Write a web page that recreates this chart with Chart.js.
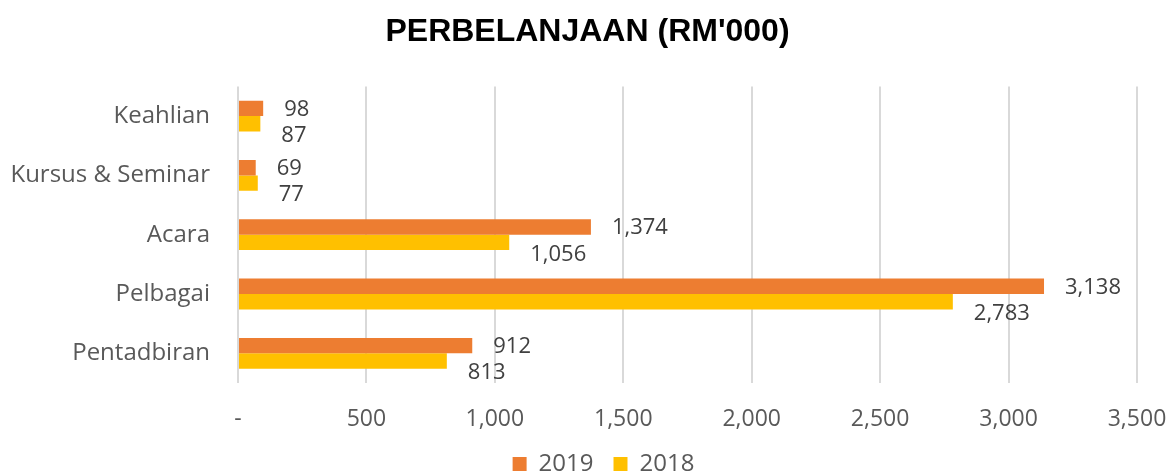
<!DOCTYPE html>
<html>
<head>
<meta charset="utf-8">
<script src="https://cdn.jsdelivr.net/npm/chart.js@4"></script>
<style>
  html, body { margin: 0; padding: 0; background: #fff; }
  #wrap { width: 1175px; height: 472px; }
</style>
</head>
<body>
<div id="wrap"><canvas id="chart"></canvas></div>
<script>
// Categories and values (RM'000)
const categories = ['Keahlian', 'Kursus & Seminar', 'Acara', 'Pelbagai', 'Pentadbiran'];
const values2019 = [98, 69, 1374, 3138, 912];
const values2018 = [87, 77, 1056, 2783, 813];
const seriesNames = ['2019', '2018'];
const xTicks = [0, 500, 1000, 1500, 2000, 2500, 3000, 3500];

const FONT = "'Open Sans', sans-serif";
const fmt = v => Number(v).toLocaleString('en-US');

// Draws value labels to the right of each bar (Excel style)
const valueLabels = {
  id: 'valueLabels',
  afterDatasetsDraw(chart) {
    const ctx = chart.ctx;
    ctx.save();
    ctx.font = '22px ' + FONT;
    ctx.fillStyle = '#404040';
    ctx.textAlign = 'left';
    ctx.textBaseline = 'middle';
    chart.data.datasets.forEach((ds, di) => {
      const meta = chart.getDatasetMeta(di);
      meta.data.forEach((bar, i) => {
        const dy = di === 1 ? 12 : 1;
        ctx.fillText(fmt(ds.data[i]), bar.x + 21, bar.y + dy);
      });
    });
    ctx.restore();
  }
};

// Legend sits lower and a bit right of where Chart.js puts it by default
const legendTweak = {
  id: 'legendTweak',
  beforeLayout(chart) {
    const legend = chart.legend;
    if (!legend || legend._patched) return;
    const origFit = legend.fit;
    legend.fit = function () {
      origFit.call(this);
      this.height = 40;
    };
    legend._patched = true;
  },
  afterLayout(chart) {
    if (!chart.legend) return;
    chart.legend.left += 16;
    chart.legend.right += 16;
  }
};

new Chart(document.getElementById('chart').getContext('2d'), {
  type: 'bar',
  data: {
    labels: categories,
    datasets: [
      { label: seriesNames[0], data: values2019, backgroundColor: '#ED7D31' },
      { label: seriesNames[1], data: values2018, backgroundColor: '#FFC000' }
    ]
  },
  options: {
    indexAxis: 'y',
    responsive: true,
    maintainAspectRatio: false,
    animation: false,
    layout: { padding: 0 },
    datasets: {
      bar: { categoryPercentage: 0.52, barPercentage: 1, borderWidth: 0 }
    },
    plugins: {
      title: {
        display: true,
        text: "PERBELANJAAN (RM'000)",
        color: '#000',
        font: { family: "'Liberation Sans', Arial, sans-serif", size: 32, weight: 'bold' },
        padding: { top: 13, bottom: 35 }
      },
      legend: {
        position: 'bottom',
        labels: {
          color: '#595959',
          font: { family: FONT, size: 24 },
          boxWidth: 14,
          boxHeight: 14,
          padding: 20
        }
      },
      tooltip: { enabled: false }
    },
    scales: {
      x: {
        min: 0,
        max: 3500,
        afterBuildTicks: s => { s.ticks = xTicks.map(v => ({ value: v })); },
        afterFit: s => { s.height = 49; s.paddingRight = 38; },
        grid: { color: '#d9d9d9', lineWidth: 2, drawTicks: false },
        border: { display: false },
        ticks: {
          padding: 23,
          color: '#595959',
          font: { family: FONT, size: 23 },
          callback: v => (v === 0 ? '-' : fmt(v))
        }
      },
      y: {
        afterFit: s => { s.width = 238; },
        grid: { display: false, drawTicks: false },
        border: { display: false },
        ticks: {
          padding: 28,
          color: '#595959',
          font: { family: FONT, size: 24 }
        }
      }
    }
  },
  plugins: [valueLabels, legendTweak]
});
</script>
</body>
</html>
